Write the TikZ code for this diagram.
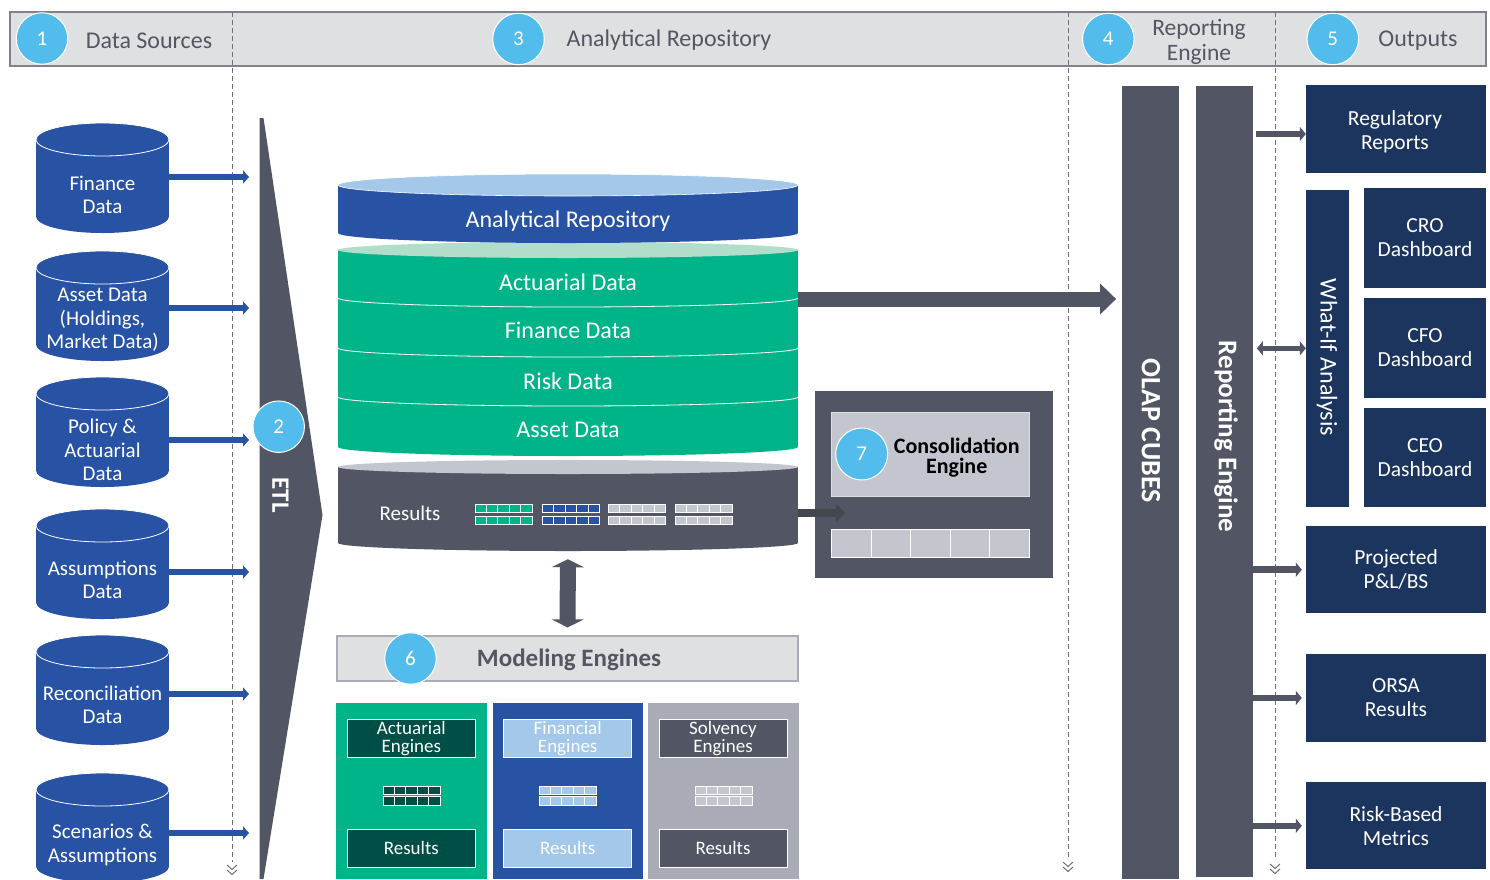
\documentclass[tikz,border=0pt]{standalone}
\usepackage{fontspec}
\setmainfont{Carlito}
\usetikzlibrary{arrows.meta}
\definecolor{slate}{HTML}{525563}
\definecolor{navy}{HTML}{1C355E}
\definecolor{dsblue}{HTML}{2852A3}
\definecolor{lblue}{HTML}{A3C8EA}
\definecolor{grn}{HTML}{00B48A}
\definecolor{lgrn}{HTML}{B3DDCB}
\definecolor{lgray}{HTML}{C3C6CF}
\definecolor{teal}{HTML}{004F47}
\definecolor{pgray}{HTML}{A9ACB7}
\definecolor{sky}{HTML}{52BCEC}
\definecolor{hdrfill}{HTML}{DFE0E2}
\definecolor{hdrline}{HTML}{80818A}
\definecolor{hdrtext}{HTML}{545662}
\definecolor{divcol}{HTML}{6E6F78}
\definecolor{darkarrow}{HTML}{45474F}
\newcommand{\cellgrid}[6]{\foreach \k in {1,...,#5}{\filldraw[fill=#6,draw=white,line width=0.8pt] ({#1+(\k-1)*#3},#2) rectangle ++(#3,#4);}}
\tikzset{
  numc/.style={circle,fill=sky,draw=white,line width=1pt,minimum size=51.5pt,inner sep=0,text=white,font=\fontsize{21}{21}\selectfont},
  hdrtxt/.style={text=hdrtext,font=\fontsize{24}{25}\selectfont,align=center,inner sep=0},
  dstxt/.style={text=white,font=\fontsize{21}{23.5}\selectfont,align=center,minimum width=133pt,inner sep=0},
  reptxt/.style={text=white,font=\fontsize{24}{26}\selectfont,minimum width=460pt,inner sep=0},
  engbox/.style={draw=white,line width=1pt,minimum width=128pt,minimum height=38.5pt,text=white,font=\fontsize{19}{18}\selectfont,align=center,inner sep=0},
  outbox/.style={fill=navy,text=white,font=\fontsize{21.5}{24}\selectfont,align=center,inner sep=0},
  bartxt/.style={text=white,rotate=-90,inner sep=0},
  bluearr/.style={draw=dsblue,line width=5.5pt,-{Triangle[length=6pt,width=13pt]}},
  grayarr/.style={draw=slate,line width=6.5pt,-{Triangle[length=6pt,width=14pt]}},
  grayarrtwo/.style={draw=slate,line width=5pt,{Triangle[length=6pt,width=14pt]}-{Triangle[length=6pt,width=14pt]}},
  bigarr/.style={draw=slate,line width=15pt,-{Triangle[length=16pt,width=30pt]}},
  darkarr/.style={draw=darkarrow,line width=8pt,-{Triangle[length=9pt,width=18pt]}},
  vdarr/.style={draw=slate,line width=16pt,{Triangle[length=8pt,width=32pt]}-{Triangle[length=8pt,width=32pt]}},
  divider/.style={draw=divcol,line width=0.9pt,dash pattern=on 5pt off 3pt},
  chev/.style={draw=divcol,line width=1pt}
}
\begin{document}
\begin{tikzpicture}[x=1pt,y=-1pt]
\useasboundingbox[fill=white] (0,0) rectangle (1490,879);

% header
\node[draw=hdrline,fill=hdrfill,line width=1.2pt,minimum width=1476pt,minimum height=54pt,inner sep=0] (hdr) at (748,39) {};
\draw[divider] (232,12) -- (232,862);
\draw[divider] (1068,12) -- (1068,858);
\draw[divider] (1275,12) -- (1275,860);
\draw[chev] (227,865) -- (232,869.5) -- (237,865) (227,870) -- (232,874.5) -- (237,870);
\draw[chev] (1063,862) -- (1068,866.5) -- (1073,862) (1063,867) -- (1068,871.5) -- (1073,867);
\draw[chev] (1270,864) -- (1275,868.5) -- (1280,864) (1270,869) -- (1275,873.5) -- (1280,869);
\node[numc] (h1) at (42,38.5) {1};
\node[hdrtxt] (t1) at (149,40.5) {Data Sources};
\node[numc] (h3) at (518.5,39) {3};
\node[hdrtxt] (t3) at (669,40.5) {Analytical Repository};
\node[numc] (h4) at (1108.3,39) {4};
\node[hdrtxt,font=\fontsize{23.5}{25}\selectfont] (t4) at (1199,41.5) {Reporting\\Engine};
\node[numc] (h5) at (1332.8,39) {5};
\node[hdrtxt] (t5) at (1418,41) {Outputs};

% ETL
\coordinate (etlin) at (249,0);
\fill[slate] (259.5,118) -- (263.5,118) -- (322.5,515) -- (263.5,879) -- (259.5,879) -- cycle;
\node[bartxt,font=\bfseries\fontsize{25}{25}\selectfont] (etl) at (280.5,495) {ETL};
\node[numc] (n2) at (278.7,426.7) {2};

% data sources
\foreach \tp/\nm/\tc/\ys/\lbl in {123/fin/195/18/{Finance\\Data},251/ast/320/12/{Asset Data\\(Holdings,\\Market Data)},377/pol/450/10/{Policy \&\\Actuarial\\Data},509/asm/580/8/{Assumptions\\Data},635/rec/705/11/{Reconciliation\\Data},773/scn/845/12/{Scenarios \&\\Assumptions}}{
  \fill[dsblue] (36,\tp+16.5) rectangle (169,\tp+93.5);
  \fill[dsblue] (102.5,\tp+93.5) ellipse (66.5 and 16.5);
  \filldraw[fill=dsblue,draw=white,line width=0.8pt] (102.5,\tp+16.5) ellipse (66.5 and 16.5);
  \node[dstxt] (\nm) at (102.5,\tc) {\lbl};
  \draw[bluearr] ([yshift=\ys pt]\nm.east) -- ([yshift=\ys pt]\nm.east -| etlin);
}

% analytical repository stack
\fill[slate] (338,467) rectangle (798,543);
\fill[slate] (568,543) ellipse (230 and 8);
\fill[lgray] (568,467) ellipse (230 and 7);
\fill[grn] (338,250) rectangle (798,447);
\fill[grn] (568,447) ellipse (230 and 9);
\fill[lgrn] (568,250) ellipse (230 and 8);
\foreach \yy in {298,348,397}{
  \begin{scope}
    \clip (330,\yy) rectangle (806,\yy+20);
    \draw[white,line width=0.8pt] (568,\yy) ellipse (230 and 9);
  \end{scope}
}
\fill[dsblue] (338,185) rectangle (798,233);
\fill[dsblue] (568,233) ellipse (230 and 10);
\filldraw[fill=lblue,draw=white,line width=0.6pt] (568,185) ellipse (230 and 11);
\node[reptxt] (ar) at (568,221) {Analytical Repository};
\node[reptxt] (act) at (568,282) {Actuarial Data};
\node[reptxt] (fd) at (568,330) {Finance Data};
\node[reptxt] (rd) at (568,381) {Risk Data};
\node[reptxt] (ad) at (568,430) {Asset Data};
\node[minimum width=460pt,minimum height=60pt,inner sep=0] (resbody) at (568,513) {};
\node[text=white,font=\fontsize{21}{22}\selectfont,inner sep=0] (res) at (410,513) {Results};
\foreach \gx/\gc in {475/grn,542.3/dsblue,608.3/lgray,675/lgray}{
  \cellgrid{\gx}{504.3}{11.4}{8.4}{5}{\gc}
  \cellgrid{\gx}{516}{11.4}{8.4}{5}{\gc}
}

% modeling engines
\node[draw=pgray,fill=hdrfill,line width=1.2pt,minimum width=461pt,minimum height=45pt,inner sep=0] (model) at (567.5,658.5) {};
\node[text=hdrtext,font=\bfseries\fontsize{25}{25}\selectfont,inner sep=0] (mtxt) at (569,660) {Modeling Engines};
\node[numc] (n6) at (410.5,658.5) {6};
\draw[vdarr,shorten <=16pt,shorten >=8pt] (resbody.south) -- (model.north);

\node[fill=grn,minimum width=150.7pt,minimum height=176pt,inner sep=0] (pa) at (411.35,791) {};
\node[fill=dsblue,minimum width=150pt,minimum height=176pt,inner sep=0] (pf) at (567.7,791) {};
\node[fill=pgray,minimum width=151.3pt,minimum height=176pt,inner sep=0] (ps) at (723.35,791) {};
\node[engbox,fill=teal] (ae) at (411.3,738.3) {Actuarial\\Engines};
\node[engbox,fill=teal] (ar2) at (411.3,848.3) {Results};
\node[engbox,fill=lblue] (fe) at (567.7,738.3) {Financial\\Engines};
\node[engbox,fill=lblue] (fr) at (567.7,848.3) {Results};
\node[engbox,fill=slate] (se) at (723,738.3) {Solvency\\Engines};
\node[engbox,fill=slate] (sr) at (723,848.3) {Results};
\foreach \gx/\gc in {383/teal,539/lblue,695/lgray}{
  \cellgrid{\gx}{786}{11.4}{8.4}{5}{\gc}
  \cellgrid{\gx}{796.7}{11.4}{8.4}{5}{\gc}
}

% consolidation engine
\node[fill=slate,minimum width=238pt,minimum height=187pt,inner sep=0] (cons) at (934,484.5) {};
\node[fill=lgray,draw=hdrfill,line width=1pt,minimum width=197.3pt,minimum height=84.7pt,inner sep=0] (cbox) at (930.35,454.35) {};
\node[numc,minimum size=52pt] (n7) at (861.7,454) {7};
\node[text=black,font=\bfseries\fontsize{22}{20}\selectfont,align=center,inner sep=0] (ctxt) at (956.7,458) {Consolidation\\Engine};
\cellgrid{831.7}{529}{39.46}{28.3}{5}{lgray}
\coordinate (conin) at (845,513);
\draw[darkarr] (resbody.east) -- (conin);

% reporting bars
\node[fill=slate,minimum width=56.7pt,minimum height=793pt,inner sep=0] (olap) at (1150.65,482.5) {};
\node[fill=slate,minimum width=56.7pt,minimum height=791pt,inner sep=0] (rep) at (1224.35,481.5) {};
\node[bartxt,font=\bfseries\fontsize{28}{28}\selectfont] (olt) at (1151,431) {OLAP CUBES};
\node[bartxt,font=\bfseries\fontsize{27}{27}\selectfont] (rpt) at (1226,436.5) {Reporting Engine};
\draw[bigarr,shorten >=6pt] ([yshift=-17pt]act.east) -- ([yshift=-17pt]act.east -| olap.west);

% outputs
\node[outbox,minimum width=180pt,minimum height=87.7pt] (reg) at (1396,128.8) {};
\node[outbox,fill=none] (regt) at (1395,132) {Regulatory\\Reports};
\node[outbox,minimum width=42.7pt,minimum height=316.7pt] (wif) at (1327.35,348.35) {};
\node[bartxt,font=\fontsize{24}{24}\selectfont] (wift) at (1327,357.5) {What-If Analysis};
\node[outbox,minimum width=122pt,minimum height=99.4pt] (cro) at (1425,238) {CRO\\Dashboard};
\node[outbox,minimum width=122pt,minimum height=99.4pt] (cfo) at (1425,348) {CFO\\Dashboard};
\node[outbox,minimum width=122pt,minimum height=99pt] (ceo) at (1425,457.2) {CEO\\Dashboard};
\node[outbox,minimum width=180pt,minimum height=87.3pt] (proj) at (1396,569.7) {Projected\\P\&L/BS};
\node[outbox,minimum width=180pt,minimum height=87.7pt] (orsa) at (1396,697.9) {ORSA\\Results};
\node[outbox,minimum width=180pt,minimum height=87pt] (risk) at (1396,825.8) {Risk-Based\\Metrics};

\draw[grayarr,shorten <=3pt] ([yshift=-5.2pt]rep.east |- reg.west) -- ([yshift=-5.2pt]reg.west);
\draw[grayarrtwo,shorten <=4pt] (rep.east |- wif.west) -- (wif.west);
\draw[grayarr,shorten >=4pt] (rep.east |- proj.west) -- (proj.west);
\draw[grayarr,shorten >=4pt] (rep.east |- orsa.west) -- (orsa.west);
\draw[grayarr,shorten >=4pt] (rep.east |- risk.west) -- (risk.west);
\end{tikzpicture}
\end{document}
